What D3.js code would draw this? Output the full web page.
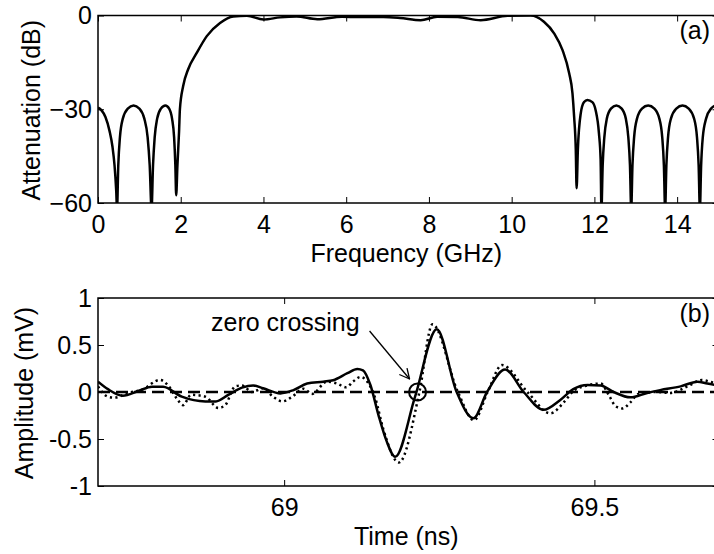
<!DOCTYPE html>
<html>
<head>
<meta charset="utf-8">
<script src="https://cdn.jsdelivr.net/npm/d3@7"></script>
<style>
  body { margin: 0; background: #fff; }
  text { font-family: "Liberation Sans", Arial, sans-serif; fill: #000; }
</style>
</head>
<body>
<div id="chart"></div>
<script>
// (a) filter response
var freqGHz = [0.00, 0.08, 0.18, 0.28, 0.35, 0.40, 0.44, 0.46, 0.49, 0.53, 0.60, 0.72, 0.86, 1.00, 1.12, 1.20, 1.25, 1.295,
  1.33, 1.37, 1.43, 1.52, 1.63, 1.72, 1.79, 1.84, 1.87, 1.89, 1.92, 1.96, 1.98, 2.06, 2.18, 2.39, 2.63, 2.95, 3.27,
  3.6, 4.0, 4.4, 4.8, 5.3, 5.9, 6.3, 6.9, 7.3, 7.8, 8.2, 8.7, 9.25, 9.9, 10.46,
  10.78, 11.03, 11.23, 11.39, 11.47, 11.51, 11.55, 11.57, 11.60, 11.67, 11.75, 11.83, 11.95, 12.03, 12.11, 12.15, 12.17,
  12.20, 12.24, 12.30, 12.40, 12.53, 12.66, 12.76, 12.82, 12.86, 12.89,
  12.92, 12.96, 13.03, 13.15, 13.30, 13.45, 13.57, 13.64, 13.68, 13.71,
  13.74, 13.78, 13.85, 13.98, 14.13, 14.28, 14.41, 14.48, 14.52, 14.55,
  14.58, 14.62, 14.70, 14.82, 14.95, 15.00];
var attenDB = [-29.5, -30.3, -32.5, -37, -42, -48, -56, -62, -48, -39, -33, -29.8, -28.8, -29.8, -33, -39, -48, -62,
  -48, -39, -33, -29.8, -28.8, -29.8, -33, -39, -48, -57.5, -48, -37, -30, -22.5, -17.2, -11.9, -6.6, -2.4, -0.3,
  -0.1, -1.3, -0.6, -0.3, -1.2, -0.4, -0.5, -0.5, -0.8, -1.5, -0.4, -0.5, -1.5, -0.1, 0,
  -2, -5.8, -11.1, -18.5, -24.9, -32.4, -43, -55.3, -43, -31.3, -27.7, -27, -27.7, -30.3, -37.7, -46, -62,
  -48, -39, -33, -29.8, -28.8, -29.8, -33, -39, -48, -62,
  -48, -39, -33, -29.8, -28.8, -29.8, -33, -39, -48, -62,
  -48, -39, -33, -29.8, -28.8, -29.8, -33, -39, -48, -62,
  -48, -39, -33, -29.8, -28.8, -28.8];

// (b) pulse, solid trace
var timeSolid = [68.700, 68.716, 68.740, 68.765, 68.787, 68.805, 68.835, 68.873, 68.890, 68.910, 68.932, 68.950, 68.966,
  68.994, 69.015, 69.037, 69.063, 69.079, 69.102, 69.118, 69.127, 69.139, 69.152, 69.165, 69.179, 69.211, 69.246,
  69.278, 69.305, 69.327, 69.356, 69.386, 69.418, 69.445, 69.466, 69.489, 69.510, 69.531, 69.558, 69.585, 69.606,
  69.639, 69.666, 69.682, 69.700];
var ampSolid = [0.11, 0.03, -0.04, 0.01, 0.057, 0.055, -0.05, -0.10, -0.10, -0.03, 0.046, 0.07, 0.04,
  -0.015, 0.02, 0.09, 0.11, 0.125, 0.20, 0.245, 0.23, 0.074, -0.245, -0.52, -0.69, -0.05, 0.667,
  0, -0.28, 0, 0.24, 0, -0.19, -0.085, 0.03, 0.074, 0.07, 0, -0.057, -0.01, 0.02,
  0.06, 0.11, 0.09, 0.07];

// (b) pulse, dotted trace
var timeDotted = [68.700, 68.716, 68.727, 68.748, 68.771, 68.800, 68.813, 68.827, 68.837, 68.850, 68.873, 68.894, 68.905,
  68.921, 68.932, 68.948, 68.966, 68.982, 68.997, 69.013, 69.031, 69.045, 69.069, 69.085, 69.100, 69.111, 69.123,
  69.134, 69.147, 69.160, 69.185, 69.218, 69.239, 69.280, 69.306, 69.328, 69.351, 69.392, 69.429, 69.452, 69.466,
  69.489, 69.510, 69.523, 69.534, 69.545, 69.558, 69.571, 69.602, 69.622, 69.650, 69.673, 69.686, 69.700];
var ampDotted = [0.06, -0.05, -0.06, -0.01, 0.025, 0.128, 0.07, -0.07, -0.14, -0.03, -0.05, -0.17, -0.14,
  0.06, 0.07, 0.0, 0.04, -0.05, -0.10, -0.05, 0.035, -0.02, 0.11, 0.09, 0.05, 0.11, 0.16,
  0.11, -0.07, -0.40, -0.75, 0.0, 0.72, 0.0, -0.30, 0.0, 0.287, 0.0, -0.227, -0.10, 0.01,
  0.07, 0.09, -0.03, -0.15, -0.175, -0.11, -0.02, 0.0, -0.01, 0.06, 0.128, 0.11, 0.08];

var timeZero = [68.7, 69.7];
var ampZero = [0, 0];
var zeroCrossing = { t: 69.215, a: 0 };

var freqTicks = [0, 2, 4, 6, 8, 10, 12, 14];
var attenTicks = [-60, -30, 0];
var timeTicks = [69, 69.5];
var ampTicks = [-1, -0.5, 0, 0.5, 1];

var width = 714, height = 554;
var plotLeft = 98, plotRight = 718.5;
var fontSize = 25;
var fontFamily = "'Liberation Sans', Arial, sans-serif";

var svg = d3.select("#chart")
  .append("svg")
  .attr("width", width)
  .attr("height", height);

var defs = svg.append("defs");
defs.append("marker")
  .attr("id", "arrow")
  .attr("viewBox", "0 0 12 12")
  .attr("refX", 11)
  .attr("refY", 6)
  .attr("markerWidth", 12)
  .attr("markerHeight", 12)
  .attr("markerUnits", "userSpaceOnUse")
  .attr("orient", "auto")
  .append("path")
  .attr("d", "M1,1 L11,6 L1,11")
  .attr("fill", "none")
  .attr("stroke", "black")
  .attr("stroke-width", 1.3);

function panel(id, top, bottom, xDomain, yDomain, xTicks, yTicks, xFormat, yFormat, xLabel, yLabel, yLabelX, tag) {
  var x = d3.scaleLinear().domain(xDomain).range([plotLeft, plotRight]);
  var y = d3.scaleLinear().domain(yDomain).range([bottom, top]);

  defs.append("clipPath").attr("id", "clip-" + id)
    .append("rect")
    .attr("x", plotLeft).attr("y", top)
    .attr("width", plotRight - plotLeft).attr("height", bottom - top);

  var g = svg.append("g").attr("class", "panel-" + id);

  g.append("g")
    .attr("transform", "translate(0," + bottom + ")")
    .call(d3.axisBottom(x).tickValues(xTicks).tickFormat(xFormat).tickSizeInner(-6).tickSizeOuter(0).tickPadding(12));
  g.append("g")
    .attr("transform", "translate(0," + top + ")")
    .call(d3.axisTop(x).tickValues(xTicks).tickFormat("").tickSizeInner(-6).tickSizeOuter(0));
  g.append("g")
    .attr("transform", "translate(" + plotLeft + ",0)")
    .call(d3.axisLeft(y).tickValues(yTicks).tickFormat(yFormat).tickSizeInner(-6).tickSizeOuter(0).tickPadding(6));
  g.append("g")
    .attr("transform", "translate(" + plotRight + ",0)")
    .call(d3.axisRight(y).tickValues(yTicks).tickFormat("").tickSizeInner(-6).tickSizeOuter(0));

  g.selectAll(".domain").remove();
  g.selectAll(".tick line").attr("stroke", "black").attr("stroke-width", 1);
  g.selectAll(".tick text")
    .attr("font-size", fontSize)
    .attr("font-family", fontFamily)
    .attr("fill", "black");

  g.append("rect")
    .attr("x", plotLeft).attr("y", top)
    .attr("width", plotRight - plotLeft).attr("height", bottom - top)
    .attr("fill", "none")
    .attr("stroke", "black")
    .attr("stroke-width", 1.5);

  g.append("text")
    .text(xLabel)
    .attr("x", (plotLeft + plotRight) / 2 - 2)
    .attr("y", bottom + 59)
    .attr("text-anchor", "middle")
    .attr("font-size", fontSize);

  g.append("text")
    .text(yLabel)
    .attr("transform", "translate(" + yLabelX + "," + ((top + bottom) / 2 + 1) + ") rotate(-90)")
    .attr("text-anchor", "middle")
    .attr("font-size", fontSize);

  g.append("text")
    .text(tag)
    .attr("x", 710)
    .attr("y", top + 23.5)
    .attr("text-anchor", "end")
    .attr("font-size", fontSize);

  var plot = g.append("g").attr("clip-path", "url(#clip-" + id + ")");
  return { x: x, y: y, plot: plot, g: g };
}

function series(xs, ys) {
  return xs.map(function(d, i) { return [d, ys[i]]; });
}

// ---- panel (a)
var a = panel("a", 15.5, 203, [0, 15], [-60, 0], freqTicks, attenTicks,
  d3.format("d"), d3.format("d"), "Frequency (GHz)", "Attenuation (dB)", 40, "(a)");

var attenLine = d3.line()
  .x(function(d) { return a.x(d[0]); })
  .y(function(d) { return a.y(d[1]); })
  .curve(d3.curveMonotoneX);

a.plot.append("path")
  .datum(series(freqGHz, attenDB))
  .attr("d", attenLine)
  .attr("fill", "none")
  .attr("stroke", "black")
  .attr("stroke-width", 2.5);

// ---- panel (b)
var b = panel("b", 298, 486, [68.7, 69.7], [-1, 1], timeTicks, ampTicks,
  function(d) { return d; }, function(d) { return d; }, "Time (ns)", "Amplitude (mV)", 33, "(b)");

var ampLine = d3.line()
  .x(function(d) { return b.x(d[0]); })
  .y(function(d) { return b.y(d[1]); })
  .curve(d3.curveMonotoneX);

b.plot.append("path")
  .datum(series(timeZero, ampZero))
  .attr("d", ampLine)
  .attr("fill", "none")
  .attr("stroke", "black")
  .attr("stroke-width", 2.5)
  .style("stroke-dasharray", "12,6");

b.plot.append("path")
  .datum(series(timeDotted, ampDotted))
  .attr("d", ampLine)
  .attr("fill", "none")
  .attr("stroke", "black")
  .attr("stroke-width", 2.5)
  .style("stroke-dasharray", "2.2,3.3");

b.plot.append("path")
  .datum(series(timeSolid, ampSolid))
  .attr("d", ampLine)
  .attr("fill", "none")
  .attr("stroke", "black")
  .attr("stroke-width", 2.5);

// zero crossing annotation
var cx = b.x(zeroCrossing.t), cy = b.y(zeroCrossing.a);
b.g.append("circle")
  .attr("cx", cx)
  .attr("cy", cy)
  .attr("r", 8.5)
  .attr("fill", "none")
  .attr("stroke", "black")
  .attr("stroke-width", 2);

b.g.append("line")
  .attr("x1", cx - 48)
  .attr("y1", cy - 61)
  .attr("x2", cx - 8)
  .attr("y2", cy - 13)
  .attr("stroke", "black")
  .attr("stroke-width", 1.3)
  .attr("marker-end", "url(#arrow)");

b.g.append("text")
  .text("zero crossing")
  .attr("x", 211)
  .attr("y", 331)
  .attr("font-size", fontSize);
</script>
</body>
</html>
